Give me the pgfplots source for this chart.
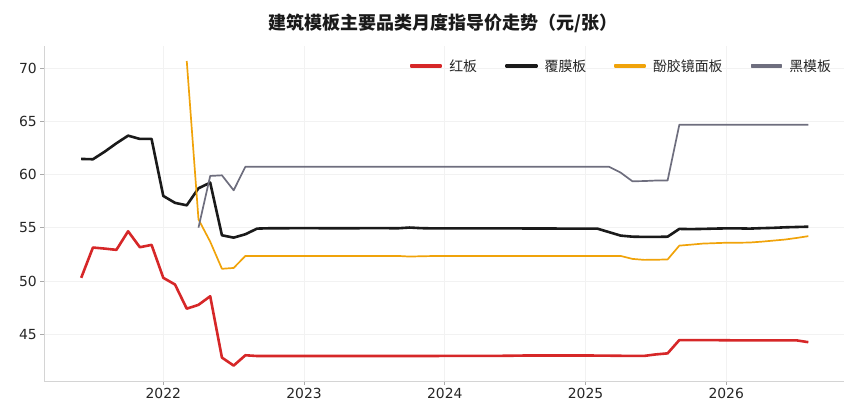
\documentclass[border=0pt]{standalone}
\usepackage{fontspec}
\setmainfont{DejaVu Sans}
\newfontfamily\cjk{Noto Sans CJK SC}
\usepackage{pgfplots}
\pgfplotsset{compat=1.18}
\definecolor{cred}{HTML}{D62728}
\definecolor{cblack}{HTML}{1A1A1A}
\definecolor{corange}{HTML}{F0A30A}
\definecolor{cgray}{HTML}{6E6E7E}
\definecolor{cgrid}{HTML}{F2F2F2}
\definecolor{cspine}{HTML}{D4D4D4}
\definecolor{ctext}{HTML}{262626}
\begin{document}
\begin{tikzpicture}[x=1pt,y=1pt]
\useasboundingbox (0,0) rectangle (860,420);
\node[font=\cjk\bfseries\fontsize{18}{20}\selectfont, text=cblack, anchor=center, inner sep=0pt] at (443,396.7) {建筑模板主要品类月度指导价走势（元/张）};
\begin{axis}[
  at={(44.3pt,39pt)}, anchor=south west,
  scale only axis, width=799.7pt, height=335pt,
  xmin=-10.146, xmax=58.04, ymin=40.6, ymax=72.1,
  axis x line=bottom, axis y line=left,
  axis line style={-, draw=cspine, line width=0.8pt},
  tick align=outside,
  major tick length=4pt,
  tick style={draw=cspine!80!black, line width=0.8pt},
  xtick={0,12,24,36,48},
  xticklabels={2022,2023,2024,2025,2026},
  ytick={45,50,55,60,65,70},
  /pgf/number format/assume math mode=true,
  ticklabel style={font=\fontsize{13.9}{16}\selectfont, text=ctext},
  grid=major,
  major grid style={draw=cgrid, line width=0.8pt},
  legend columns=4,
  legend style={at={(0.9837,0.9403)}, anchor=east, draw=none, fill=none,
    inner sep=0pt, outer sep=0pt,
    font=\cjk\fontsize{13.9}{16}\selectfont, text=ctext,
    nodes={inner sep=0pt, anchor=west},
    /tikz/every odd column/.append style={column sep=7pt},
    /tikz/every even column/.append style={column sep=28pt}},
  clip=false,
]
\addplot[cred, line width=2.6pt, line join=round,
  legend image code/.code={\fill[cred] (0pt,-1.15pt) rectangle (30pt,1.15pt);}] coordinates {
(-7,50.3)(-6,53.15)(-5,53.05)(-4,52.93)(-3,54.68)(-2,53.18)(-1,53.4)(0,50.3)(1,49.67)(2,47.4)(3,47.76)(4,48.57)(5,42.8)(6,42.05)(7,43.02)(8,42.95)(9,42.95)(10,42.95)(11,42.95)(12,42.95)(13,42.95)(14,42.95)(15,42.95)(16,42.95)(17,42.95)(18,42.95)(19,42.95)(20,42.95)(21,42.95)(22,42.95)(23,42.95)(24,42.96)(25,42.96)(26,42.96)(27,42.96)(28,42.96)(29,42.97)(30,42.98)(31,43.0)(32,43.0)(33,43.0)(34,43.0)(35,43.0)(36,43.0)(37,42.99)(38,42.98)(39,42.97)(40,42.96)(41,42.96)(42,43.1)(43,43.2)(44,44.45)(45,44.45)(46,44.45)(47,44.44)(48,44.43)(49,44.42)(50,44.42)(51,44.42)(52,44.42)(53,44.42)(54,44.42)(55,44.25)
};
\addlegendentry{红板}
\addplot[cblack, line width=2.6pt, line join=round,
  legend image code/.code={\fill[cblack] (0pt,-1.15pt) rectangle (30pt,1.15pt);}] coordinates {
(-7,61.48)(-6,61.45)(-5,62.16)(-4,62.95)(-3,63.67)(-2,63.36)(-1,63.36)(0,58.0)(1,57.35)(2,57.12)(3,58.72)(4,59.25)(5,54.3)(6,54.08)(7,54.4)(8,54.93)(9,54.96)(10,54.96)(11,54.97)(12,54.98)(13,54.97)(14,54.96)(15,54.96)(16,54.96)(17,54.97)(18,54.97)(19,54.97)(20,54.96)(21,55.03)(22,54.97)(23,54.95)(24,54.95)(25,54.95)(26,54.95)(27,54.95)(28,54.95)(29,54.95)(30,54.95)(31,54.94)(32,54.94)(33,54.94)(34,54.93)(35,54.93)(36,54.93)(37,54.93)(38,54.6)(39,54.27)(40,54.17)(41,54.15)(42,54.15)(43,54.17)(44,54.9)(45,54.88)(46,54.9)(47,54.93)(48,54.95)(49,54.95)(50,54.93)(51,54.97)(52,55.0)(53,55.05)(54,55.08)(55,55.11)
};
\addlegendentry{覆膜板}
\addplot[corange, line width=1.7pt, line join=round,
  legend image code/.code={\fill[corange] (0pt,-0.75pt) rectangle (30pt,0.75pt);}] coordinates {
(2,70.69)(3,55.8)(4,53.7)(5,51.15)(6,51.23)(7,52.36)(8,52.36)(9,52.36)(10,52.36)(11,52.36)(12,52.36)(13,52.36)(14,52.36)(15,52.36)(16,52.36)(17,52.36)(18,52.36)(19,52.36)(20,52.36)(21,52.3)(22,52.33)(23,52.35)(24,52.36)(25,52.36)(26,52.36)(27,52.36)(28,52.36)(29,52.36)(30,52.36)(31,52.36)(32,52.36)(33,52.36)(34,52.36)(35,52.36)(36,52.36)(37,52.36)(38,52.36)(39,52.36)(40,52.08)(41,51.99)(42,52.0)(43,52.03)(44,53.33)(45,53.42)(46,53.52)(47,53.56)(48,53.6)(49,53.6)(50,53.62)(51,53.7)(52,53.8)(53,53.9)(54,54.05)(55,54.22)
};
\addlegendentry{酚胶镜面板}
\addplot[cgray, line width=1.7pt, line join=round,
  legend image code/.code={\fill[cgray] (0pt,-0.75pt) rectangle (30pt,0.75pt);}] coordinates {
(3,55.02)(4,59.88)(5,59.94)(6,58.53)(7,60.75)(8,60.75)(9,60.75)(10,60.75)(11,60.75)(12,60.75)(13,60.75)(14,60.75)(15,60.75)(16,60.75)(17,60.75)(18,60.75)(19,60.75)(20,60.75)(21,60.75)(22,60.75)(23,60.75)(24,60.75)(25,60.75)(26,60.75)(27,60.75)(28,60.75)(29,60.75)(30,60.75)(31,60.75)(32,60.75)(33,60.75)(34,60.75)(35,60.75)(36,60.75)(37,60.75)(38,60.75)(39,60.19)(40,59.38)(41,59.4)(42,59.45)(43,59.46)(44,64.7)(45,64.7)(46,64.7)(47,64.7)(48,64.7)(49,64.7)(50,64.7)(51,64.7)(52,64.7)(53,64.7)(54,64.7)(55,64.7)
};
\addlegendentry{黑模板}
\end{axis}
\end{tikzpicture}
\end{document}
